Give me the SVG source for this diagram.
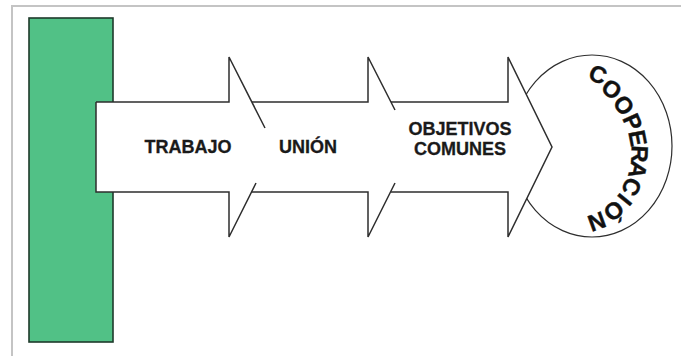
<svg xmlns="http://www.w3.org/2000/svg" width="681" height="356" viewBox="0 0 681 356">
  <style>
    .ln { fill: none; stroke: #2e2e2e; stroke-width: 1.5; stroke-linejoin: miter; }
    .lbl { font-family: "Liberation Sans", Arial, sans-serif; font-weight: bold; font-size: 18px; fill: #1a1a1a; stroke: #1a1a1a; stroke-width: 0.3; text-anchor: middle; }
    .arc { font-family: "Liberation Sans", Arial, sans-serif; font-weight: bold; font-size: 23.5px; fill: #111; stroke: #111; stroke-width: 0.4; text-anchor: middle; }
  </style>
  <rect x="0" y="0" width="681" height="356" fill="#ffffff"/>
  <g id="frame">
    <path d="M 12,356 V 6 H 681" fill="none" stroke="#c4c4c4" stroke-width="2"/>
  </g>
  <g id="wall">
    <rect x="29" y="18" width="84" height="324" fill="#51c186" stroke="#1f3a2b" stroke-width="1.6"/>
  </g>
  <g id="cooperacion">
    <ellipse cx="592" cy="146" rx="80" ry="91" fill="#ffffff" stroke="#2e2e2e" stroke-width="1.2"/>
    <g class="arc">
      <text transform="translate(598,74) rotate(22)" y="8.5">C</text>
      <text transform="translate(612,89) rotate(38)" y="8.5">O</text>
      <text transform="translate(624,105) rotate(51)" y="8.5">O</text>
      <text transform="translate(633,122) rotate(66)" y="8.5">P</text>
      <text transform="translate(638,138) rotate(79)" y="8.5">E</text>
      <text transform="translate(640,154) rotate(92)" y="8.5">R</text>
      <text transform="translate(638,170) rotate(103)" y="8.5">A</text>
      <text transform="translate(632,187) rotate(117)" y="8.5">C</text>
      <text transform="translate(625,200) rotate(129)" y="8.5">I</text>
      <text transform="translate(614,211) rotate(141)" y="8.5">Ó</text>
      <text transform="translate(597,222) rotate(160)" y="8.5">N</text>
    </g>
  </g>
  <g id="arrow">
    <polygon points="96,102 229,102 229,57 252,102 368,102 368,57 391,102 508,102 508,57 552,147 508,237 508,192 391,192 368,237 368,192 251,192 229,237 229,192 96,192" fill="#ffffff"/>
  </g>
  <g id="connectors">
    <path class="ln" d="M 96,102 H 229 V 57 L 265,128"/>
    <path class="ln" d="M 96,102 V 192 H 229 V 237 L 256,183"/>
    <path class="ln" d="M 252,102 H 368 V 57 L 395,110"/>
    <path class="ln" d="M 251,192 H 368 V 237 L 395,183"/>
    <path class="ln" d="M 391,102 H 508 V 57 L 552,147 L 508,237 V 192 H 391"/>
  </g>
  <g id="trabajo">
    <text class="lbl" x="188" y="153">TRABAJO</text>
  </g>
  <g id="union">
    <text class="lbl" x="308" y="153">UNIÓN</text>
  </g>
  <g id="objetivos">
    <text class="lbl" x="460" y="135">OBJETIVOS</text>
    <text class="lbl" x="460" y="155">COMUNES</text>
  </g>
</svg>
